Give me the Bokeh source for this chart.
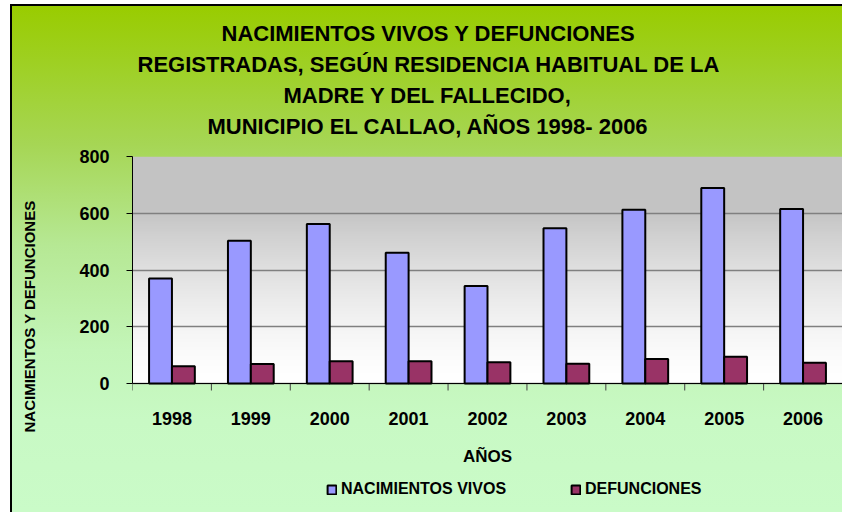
import numpy as np
from bokeh.plotting import figure
from bokeh.models import (Range1d, FixedTicker, Title, Legend, LegendItem, Span)
from bokeh.core.properties import value
from bokeh.embed import file_html
from bokeh.resources import INLINE

# ---- data ----
years = ["1998", "1999", "2000", "2001", "2002", "2003", "2004", "2005", "2006"]
nacimientos = [370, 503, 562, 461, 344, 547, 612, 689, 615]
defunciones = [61, 69, 78, 78, 75, 70, 86, 94, 73]
y_ticks = [0, 200, 400, 600, 800]
series_names = ["NACIMIENTOS VIVOS", "DEFUNCIONES"]
title_lines = [
    "NACIMIENTOS VIVOS Y DEFUNCIONES",
    "REGISTRADAS, SEGÚN RESIDENCIA HABITUAL DE LA",
    "MADRE Y DEL FALLECIDO,",
    "MUNICIPIO EL CALLAO, AÑOS 1998- 2006",
]
x_title = "AÑOS"
y_title = "NACIMIENTOS Y DEFUNCIONES"

# ---- layout constants ----
SANS = "Liberation Sans"
FRAME_LEFT = 132
PLOT_H = 227          # px height of the value area (0..800)
BELOW_H = 129         # px below the value area (axis labels + legend)
title_left = [221, 137, 283, 207]   # left x (px) of each centred title line

n_cat = len(years)
ymax = y_ticks[-1]
px = ymax / PLOT_H                      # data units per pixel (vertical)
y_start = -BELOW_H * px

p = figure(frame_width=710, frame_height=PLOT_H + BELOW_H, output_backend="svg",
           toolbar_location=None, x_axis_location=None,
           x_range=Range1d(0, n_cat), y_range=Range1d(y_start, ymax),
           min_border_left=FRAME_LEFT, min_border_right=0, min_border_top=156,
           min_border_bottom=0,
           background_fill_color=None, border_fill_color=None,
           outline_line_color=None)
p.styles = {
    "background": (
        "linear-gradient(to right, #ffffff 0px, #ffffff 10px, transparent 10px), "
        "linear-gradient(to bottom, #ffffff 0px, #ffffff 4px, transparent 4px), "
        "linear-gradient(to right, transparent 10px, #000000 10px, #000000 12px, transparent 12px), "
        "linear-gradient(to bottom, transparent 4px, #000000 4px, #000000 6px, transparent 6px), "
        "linear-gradient(to bottom, #99CC00 6px, #A6D655 145px, #B6E894 245px, "
        "#C3F5B8 350px, #C8F9C4 420px, #CAFBC8 512px, #CAFBC8 100%)"
    ),
}

# plot-area gradient (grey at top to white at bottom)
n = 200
vv = (np.arange(n) + 0.5) / n * ymax
c = (255 - 60 * np.clip(vv / 620.0, 0, 1) ** 1.5).astype(np.uint32)
img = ((np.uint32(255) << 24) | (c << 16) | (c << 8) | c).reshape(n, 1)
p.image_rgba(image=[img], x=0, y=0, dw=n_cat, dh=ymax, level="image")

# bars
idx = np.arange(n_cat)
w = 0.29
r1 = p.vbar(x=idx + 0.5 - w / 2, top=nacimientos, width=w,
            fill_color="#9999FF", line_color="black", line_width=2)
r2 = p.vbar(x=idx + 0.5 + w / 2, top=defunciones, width=w,
            fill_color="#993366", line_color="black", line_width=2)

# category axis: baseline, ticks between categories, year labels, title
p.add_layout(Span(location=0, dimension="width", line_color="black", line_width=1))
bounds = np.arange(n_cat + 1, dtype=float)
p.segment(x0=bounds, y0=np.zeros(n_cat + 1), x1=bounds,
          y1=np.full(n_cat + 1, -7 * px), line_color="#404040", line_width=1)
p.text(x=idx + 0.5, y=np.zeros(n_cat), text=years, text_align="center",
       text_baseline="middle", y_offset=35, text_font=value(SANS),
       text_font_style="bold", text_font_size="18px", text_color="black")
p.text(x=[n_cat / 2], y=[0], text=[x_title], text_align="center",
       text_baseline="middle", y_offset=73, text_font=value(SANS),
       text_font_style="bold", text_font_size="17px", text_color="black")

# y axis
ya = p.yaxis[0]
yt = FixedTicker(ticks=y_ticks)
ya.ticker = yt
ya.bounds = (0, ymax)
ya.major_tick_out = 6
ya.major_tick_in = 0
ya.minor_tick_out = 0
ya.minor_tick_in = 0
ya.major_tick_line_color = "black"
ya.axis_line_color = "black"
ya.major_label_text_font = SANS
ya.major_label_text_font_style = "bold"
ya.major_label_text_font_size = "18px"
ya.major_label_text_color = "black"
ya.major_label_standoff = 17
# invisible spacer label so the axis title sits further out
ya.axis_label = "."
ya.axis_label_text_font_size = "10px"
ya.axis_label_text_alpha = 0
ya.axis_label_standoff = 27
p.ygrid.ticker = yt
p.ygrid.grid_line_color = "#808080"
p.ygrid.grid_line_width = 1.5
p.xgrid.visible = False

# y title (left panel; offset measured from the bottom of the canvas)
p.add_layout(Title(text=y_title, align="left", offset=80, vertical_align="middle",
                   standoff=0, text_font=SANS, text_font_style="bold",
                   text_font_size="15px", text_color="black"), "left")

# chart title: nearly invisible spacer nearest the frame, then lines bottom to top
p.add_layout(Title(text=".", text_font_size="10px", standoff=5, text_alpha=0.01,
                   text_color="#A6D655"), "above")
for txt, lx in reversed(list(zip(title_lines, title_left))):
    p.add_layout(Title(text=txt, align="left", offset=lx - FRAME_LEFT,
                       vertical_align="middle", standoff=4, text_font=SANS,
                       text_font_style="bold", text_font_size="22px",
                       text_color="black"), "above")

# legend inside the (extended) frame, under the axis title
leg = Legend(items=[LegendItem(label=series_names[0], renderers=[r1]),
                    LegendItem(label=series_names[1], renderers=[r2])],
             location=(194, 14), orientation="horizontal",
             glyph_width=11, glyph_height=11, label_standoff=4,
             padding=0, margin=0, spacing=64,
             border_line_color=None, background_fill_alpha=0,
             label_text_font=SANS, label_text_font_style="bold",
             label_text_font_size="16px", label_text_color="black")
p.add_layout(leg)

open("out.html", "w").write(file_html(p, INLINE))
